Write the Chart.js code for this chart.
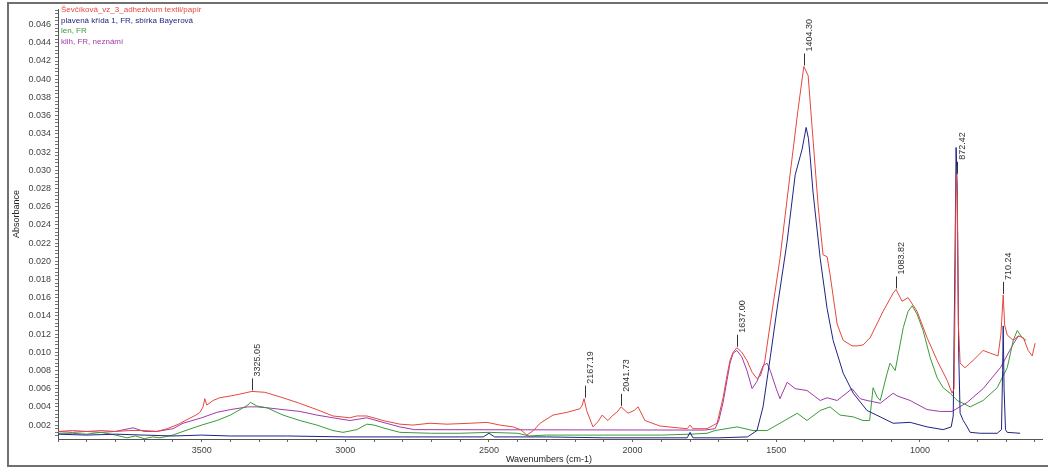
<!DOCTYPE html>
<html>
<head>
<meta charset="utf-8">
<script src="https://cdn.jsdelivr.net/npm/chart.js@4.4.1/dist/chart.umd.min.js"></script>
<style>
html,body{margin:0;padding:0;background:#fff;}
#wrap{position:relative;width:1048px;height:469px;}
</style>
</head>
<body>
<div id="wrap"><canvas id="c" width="1048" height="469"></canvas></div>
<script>
// ---- data (wavenumber cm-1, absorbance) ----
const seriesNames = [
  "Ševčíková_vz_3_adhezivum textil/papír",
  "plavená křída 1, FR, sbírka Bayerová",
  "len, FR",
  "klih, FR, neznámí"
];
const redPts = [[4000,0.0013],[3950,0.0014],[3900,0.0013],[3850,0.0014],[3800,0.0013],[3750,0.0014],[3700,0.0014],[3656,0.0013],[3620,0.0016],[3580,0.0021],[3551,0.0026],[3520,0.0031],[3506,0.0034],[3495,0.0040],[3489,0.0049],[3482,0.0042],[3460,0.0047],[3437,0.0050],[3400,0.0052],[3367,0.0054],[3325,0.0057],[3280,0.0056],[3217,0.0050],[3160,0.0044],[3099,0.0037],[3043,0.0030],[2984,0.0028],[2960,0.0030],[2925,0.0030],[2890,0.0027],[2869,0.0025],[2810,0.0021],[2765,0.0020],[2705,0.0022],[2646,0.0021],[2566,0.0022],[2507,0.0023],[2462,0.0020],[2416,0.0018],[2390,0.0015],[2368,0.0009],[2345,0.0014],[2322,0.0022],[2277,0.0031],[2228,0.0034],[2183,0.0038],[2175,0.0042],[2169,0.0049],[2160,0.0036],[2138,0.0018],[2120,0.0024],[2106,0.0031],[2086,0.0025],[2068,0.0031],[2055,0.0034],[2040,0.0040],[2016,0.0033],[1995,0.0036],[1981,0.0040],[1957,0.0025],[1905,0.0019],[1845,0.0017],[1810,0.0016],[1800,0.0020],[1790,0.0016],[1741,0.0016],[1706,0.0022],[1685,0.0050],[1671,0.0075],[1661,0.0091],[1650,0.0100],[1637,0.0105],[1620,0.0100],[1602,0.0091],[1584,0.0078],[1567,0.0071],[1555,0.0074],[1540,0.0090],[1521,0.0131],[1487,0.0203],[1452,0.0295],[1424,0.0367],[1404,0.0414],[1389,0.0404],[1372,0.0334],[1354,0.0260],[1337,0.0207],[1323,0.0205],[1313,0.0186],[1288,0.0131],[1267,0.0113],[1236,0.0107],[1218,0.0107],[1198,0.0108],[1173,0.0116],[1128,0.0145],[1093,0.0165],[1083,0.0169],[1062,0.0156],[1041,0.0160],[1010,0.0145],[975,0.0116],[940,0.0091],[905,0.0069],[888,0.0055],[881,0.0060],[877,0.0180],[874,0.0295],[870,0.0270],[866,0.0130],[860,0.0088],[843,0.0083],[815,0.0091],[780,0.0102],[755,0.0099],[728,0.0096],[718,0.0120],[710,0.0163],[705,0.0130],[696,0.0119],[675,0.0113],[658,0.0118],[640,0.0116],[623,0.0102],[609,0.0096],[599,0.0110]];
const bluePts = [[4000,0.0010],[3900,0.0009],[3800,0.0010],[3700,0.0009],[3600,0.0008],[3500,0.0009],[3400,0.0008],[3200,0.0008],[3000,0.0007],[2800,0.0007],[2600,0.0007],[2520,0.0007],[2500,0.0011],[2480,0.0007],[2300,0.0007],[2100,0.0006],[1900,0.0006],[1810,0.0006],[1800,0.0012],[1790,0.0006],[1700,0.0006],[1600,0.0007],[1567,0.0014],[1546,0.0040],[1521,0.0094],[1497,0.0148],[1462,0.0222],[1434,0.0295],[1410,0.0323],[1396,0.0347],[1388,0.0335],[1382,0.0315],[1372,0.0276],[1347,0.0203],[1323,0.0148],[1302,0.0113],[1267,0.0077],[1232,0.0055],[1184,0.0036],[1138,0.0029],[1093,0.0022],[1034,0.0023],[975,0.0018],[919,0.0015],[891,0.0018],[884,0.0030],[878,0.0200],[874,0.0325],[870,0.0280],[865,0.0100],[860,0.0033],[849,0.0025],[843,0.0022],[825,0.0012],[790,0.0011],[731,0.0011],[716,0.0015],[712,0.0080],[710,0.0129],[707,0.0060],[702,0.0015],[696,0.0012],[651,0.0011]];
const greenPts = [[4000,0.0011],[3950,0.0011],[3900,0.0010],[3850,0.0012],[3800,0.0009],[3760,0.0006],[3730,0.0008],[3700,0.0005],[3670,0.0007],[3645,0.0006],[3600,0.0009],[3565,0.0013],[3500,0.0020],[3447,0.0025],[3400,0.0031],[3339,0.0042],[3330,0.0045],[3308,0.0041],[3273,0.0039],[3217,0.0031],[3158,0.0025],[3099,0.0020],[3043,0.0014],[3008,0.0012],[2960,0.0015],[2925,0.0021],[2900,0.0020],[2869,0.0017],[2810,0.0012],[2700,0.0011],[2600,0.0011],[2500,0.0012],[2400,0.0011],[2360,0.0008],[2300,0.0009],[2100,0.0009],[1900,0.0009],[1800,0.0010],[1741,0.0011],[1713,0.0014],[1636,0.0018],[1581,0.0014],[1532,0.0014],[1487,0.0022],[1427,0.0033],[1393,0.0025],[1347,0.0036],[1313,0.0040],[1278,0.0031],[1232,0.0029],[1198,0.0025],[1175,0.0025],[1163,0.0061],[1149,0.0051],[1138,0.0047],[1114,0.0077],[1104,0.0088],[1086,0.0080],[1058,0.0127],[1041,0.0145],[1027,0.0151],[1010,0.0142],[989,0.0124],[964,0.0094],[940,0.0072],[919,0.0061],[895,0.0055],[870,0.0047],[825,0.0040],[780,0.0047],[731,0.0061],[696,0.0083],[675,0.0113],[661,0.0124],[644,0.0116],[630,0.0113]];
const purplePts = [[4000,0.0013],[3950,0.0012],[3900,0.0013],[3850,0.0012],[3800,0.0013],[3739,0.0017],[3700,0.0013],[3656,0.0013],[3600,0.0016],[3565,0.0022],[3500,0.0028],[3447,0.0034],[3400,0.0037],[3339,0.0040],[3308,0.0040],[3273,0.0039],[3217,0.0037],[3158,0.0035],[3099,0.0031],[3043,0.0028],[2984,0.0025],[2925,0.0028],[2869,0.0023],[2810,0.0018],[2760,0.0015],[1750,0.00145],[1713,0.0016],[1700,0.0025],[1685,0.0045],[1671,0.0070],[1661,0.0088],[1650,0.0099],[1637,0.0102],[1620,0.0095],[1602,0.0080],[1584,0.0060],[1567,0.0068],[1546,0.0085],[1532,0.0088],[1521,0.0080],[1500,0.0060],[1487,0.0049],[1462,0.0067],[1434,0.0060],[1393,0.0058],[1347,0.0047],[1323,0.0050],[1288,0.0047],[1236,0.0060],[1208,0.0049],[1184,0.0047],[1138,0.0044],[1093,0.0055],[1079,0.0052],[1034,0.0047],[975,0.0037],[929,0.0035],[888,0.0035],[835,0.0045],[780,0.0060],[720,0.0083],[675,0.0109],[661,0.0116],[655,0.0118]];
const peakLabels = ["3325.05","2167.19","2041.73","1637.00","1404.30","1083.82","872.42","710.24"];
const peakWn = [3325.05,2167.19,2041.73,1637.00,1404.30,1083.82,872.42,710.24];
const peakAbs = [0.0057,0.0049,0.0040,0.0105,0.0414,0.0169,0.0295,0.0163];
const xTickValues = [1000,1500,2000,2500,3000,3500];
const yTickValues = [0.002,0.004,0.006,0.008,0.010,0.012,0.014,0.016,0.018,0.020,0.022,0.024,0.026,0.028,0.030,0.032,0.034,0.036,0.038,0.040,0.042,0.044,0.046];

const colors = ['#e5483f','#1f2383','#3a9b3a','#a03aa8'];
const FONT = '"Liberation Sans", Arial, sans-serif';
const toXY = pts => pts.map(p => ({x:p[0], y:p[1]}));

const decor = {
  id:'decor',
  beforeDraw(chart){
    const ctx = chart.ctx;
    ctx.save();
    ctx.fillStyle = '#fff';
    ctx.fillRect(0,0,chart.width,chart.height);
    ctx.strokeStyle = '#707070';
    ctx.lineWidth = 2;
    ctx.strokeRect(8,3,1060,463);
    ctx.restore();
  },
  afterDraw(chart){
    const ctx = chart.ctx;
    const xs = chart.scales.x, ys = chart.scales.y;
    ctx.save();
    // legend
    ctx.font = '8px ' + FONT;
    ctx.textAlign = 'left';
    ctx.textBaseline = 'middle';
    const ly = [9.5, 20.3, 31.1, 41.9];
    seriesNames.forEach((n,i)=>{ ctx.fillStyle = colors[i]; ctx.fillText(n, 61, ly[i]); });
    // axis titles
    ctx.font = '9px ' + FONT;
    ctx.fillStyle = '#222';
    ctx.textAlign = 'center';
    ctx.fillText('Wavenumbers (cm-1)', 549, 460);
    ctx.save();
    ctx.translate(17, 214);
    ctx.rotate(-Math.PI/2);
    ctx.fillText('Absorbance', 0, 0);
    ctx.restore();
    // peak labels
    ctx.strokeStyle = '#333';
    ctx.lineWidth = 1;
    ctx.fillStyle = '#333';
    peakLabels.forEach((lab,i)=>{
      const px = Math.round(xs.getPixelForValue(peakWn[i])) + 0.5;
      const py = ys.getPixelForValue(peakAbs[i]) - 1;
      ctx.beginPath(); ctx.moveTo(px, py); ctx.lineTo(px, py-12); ctx.stroke();
      ctx.save();
      ctx.translate(px+1, py-14);
      ctx.rotate(-Math.PI/2);
      ctx.textAlign = 'left';
      ctx.textBaseline = 'top';
      ctx.fillText(lab, 0, 0);
      ctx.restore();
    });
    ctx.restore();
  }
};

const ds = [redPts, bluePts, greenPts, purplePts].map((pts,i)=>({
  label: seriesNames[i], data: toXY(pts), borderColor: colors[i], borderWidth: 1,
  pointRadius: 0, fill: false, tension: 0
}));

new Chart(document.getElementById('c'), {
  type: 'line',
  data: { datasets: ds },
  options: {
    responsive: false, animation: false, parsing: true,
    layout: { padding: { left: 0, right: 6, top: 6, bottom: 0 } },
    plugins: { legend: { display: false }, tooltip: { enabled: false } },
    scales: {
      x: {
        type: 'linear', reverse: true, min: 575, max: 4000,
        afterBuildTicks(s){ const t=[]; for(let v=600; v<=4000; v+=100) t.push({value:v}); s.ticks = t; },
        afterFit(s){ s.height = 30; },
        ticks: { autoSkip:false, maxRotation:0, padding:3, color:'#444', font:{size:9, family:FONT},
          callback:(v)=> xTickValues.includes(v) ? String(v) : '' },
        grid: { drawOnChartArea:false, drawTicks:true, tickLength:3, color:'#666' },
        border: { display:true, color:'#555', width:1 }
      },
      y: {
        type: 'linear', min: 0.00047, max: 0.04767,
        afterBuildTicks(s){ const t=[]; for(let k=2; k<=119; k++) t.push({value:k*0.0004}); s.ticks = t; },
        afterFit(s){ s.width = 58; },
        ticks: { autoSkip:false, padding:4, color:'#444', font:{size:9, family:FONT},
          callback:(v)=>{ const m = yTickValues.find(t=>Math.abs(t-v)<1e-7); return m!==undefined ? m.toFixed(3) : ''; } },
        grid: { drawOnChartArea:false, drawTicks:true, tickLength:3, color:'#777' },
        border: { display:true, color:'#555', width:1 }
      }
    }
  },
  plugins: [decor]
});
</script>
</body>
</html>
